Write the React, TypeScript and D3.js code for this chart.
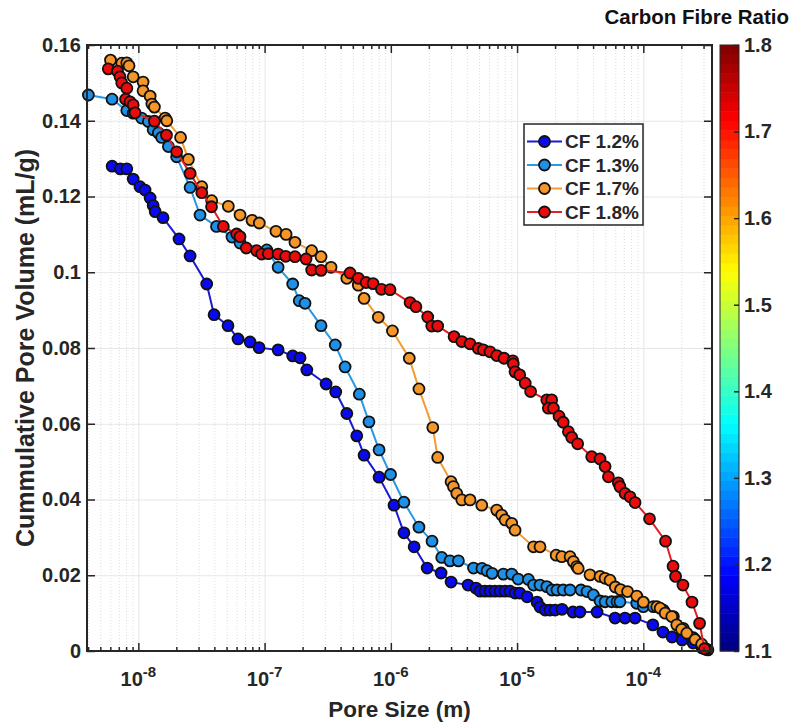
import React, { useEffect, useRef } from "react";
import * as d3 from "d3";

// pore size (m) / cumulative pore volume (mL/g)
const cf12Size = [6.2e-9, 7.2e-9, 8.1e-9, 9.1e-9, 1.03e-8, 1.13e-8, 1.24e-8, 1.31e-8, 1.36e-8, 1.57e-8, 2.1e-8, 2.57e-8, 3.48e-8, 3.98e-8, 5.13e-8, 6.16e-8, 7.67e-8, 9.04e-8, 1.28e-7, 1.67e-7, 1.91e-7, 2.16e-7, 3.07e-7, 3.66e-7, 4.48e-7, 5.37e-7, 6.14e-7, 8.07e-7, 1.06e-6, 1.27e-6, 1.53e-6, 1.94e-6, 2.5e-6, 3.0e-6, 4.09e-6, 4.73e-6, 5.09e-6, 5.57e-6, 6.1e-6, 6.68e-6, 7.33e-6, 8.02e-6, 8.79e-6, 9.64e-6, 1.05e-5, 1.2e-5, 1.44e-5, 1.52e-5, 1.67e-5, 1.82e-5, 2.0e-5, 2.27e-5, 2.77e-5, 3.15e-5, 4.3e-5, 5.97e-5, 7.16e-5, 8.6e-5, 1.19e-4, 1.43e-4, 1.69e-4, 2.03e-4, 2.48e-4, 2.92e-4, 3.15e-4];
const cf12Vol = [0.128, 0.1273, 0.1273, 0.1246, 0.1226, 0.1217, 0.1196, 0.1176, 0.116, 0.1144, 0.1088, 0.1043, 0.0969, 0.0888, 0.0859, 0.0824, 0.0816, 0.0801, 0.0795, 0.0779, 0.0774, 0.0742, 0.0705, 0.0684, 0.0627, 0.0568, 0.0517, 0.0459, 0.0385, 0.0312, 0.0275, 0.0219, 0.0206, 0.0182, 0.0174, 0.0166, 0.0158, 0.0158, 0.0158, 0.0158, 0.0158, 0.0158, 0.0158, 0.0153, 0.0153, 0.0143, 0.0129, 0.0116, 0.0108, 0.0108, 0.0108, 0.011, 0.0103, 0.0103, 0.0103, 0.0087, 0.0087, 0.0087, 0.0069, 0.005, 0.0037, 0.0029, 0.0021, 0.0008, 0.0005];

const cf13Size = [4.02e-9, 6.19e-9, 8.1e-9, 9.1e-9, 1.06e-8, 1.2e-8, 1.31e-8, 1.44e-8, 1.53e-8, 1.73e-8, 2.01e-8, 2.57e-8, 3.08e-8, 4.16e-8, 5.52e-8, 6.39e-8, 1.04e-7, 1.28e-7, 1.67e-7, 1.88e-7, 2.09e-7, 2.8e-7, 3.63e-7, 4.34e-7, 5.63e-7, 6.71e-7, 8.07e-7, 9.95e-7, 1.27e-6, 1.67e-6, 2.12e-6, 2.53e-6, 2.94e-6, 3.43e-6, 4.52e-6, 5.27e-6, 5.78e-6, 6.34e-6, 7.79e-6, 9.07e-6, 1.02e-5, 1.23e-5, 1.35e-5, 1.52e-5, 1.72e-5, 1.89e-5, 2.07e-5, 2.32e-5, 2.63e-5, 3.21e-5, 3.58e-5, 4.02e-5, 4.54e-5, 4.98e-5, 5.62e-5, 6.19e-5, 6.53e-5, 8.87e-5, 1.0e-4, 1.2e-4, 1.44e-4, 1.73e-4, 2.07e-4, 2.49e-4, 3.25e-4];
const cf13Vol = [0.1468, 0.1457, 0.1427, 0.142, 0.1407, 0.1398, 0.1376, 0.1368, 0.1356, 0.1332, 0.1305, 0.1224, 0.1151, 0.1121, 0.1093, 0.1077, 0.1059, 0.1013, 0.0969, 0.0925, 0.0918, 0.0859, 0.0808, 0.075, 0.0678, 0.0605, 0.0531, 0.0466, 0.0393, 0.0327, 0.029, 0.0247, 0.0238, 0.0238, 0.0219, 0.0218, 0.0212, 0.0205, 0.0203, 0.0203, 0.019, 0.0189, 0.0174, 0.0174, 0.017, 0.0161, 0.0161, 0.0161, 0.0161, 0.0161, 0.0157, 0.0148, 0.0132, 0.013, 0.013, 0.013, 0.013, 0.0126, 0.0117, 0.0117, 0.0108, 0.0091, 0.006, 0.0035, 0.0003];

const cf17Size = [6.02e-9, 7.39e-9, 8.1e-9, 8.44e-9, 9.1e-9, 1.09e-8, 1.09e-8, 1.24e-8, 1.28e-8, 1.34e-8, 1.63e-8, 1.68e-8, 2.16e-8, 2.49e-8, 3.18e-8, 3.81e-8, 5.16e-8, 6.39e-8, 7.95e-8, 9.08e-8, 1.23e-7, 1.48e-7, 1.74e-7, 2.36e-7, 2.8e-7, 3.36e-7, 4.48e-7, 5.53e-7, 6.14e-7, 7.96e-7, 1.03e-6, 1.4e-6, 1.67e-6, 2.15e-6, 2.35e-6, 3.0e-6, 3.13e-6, 3.33e-6, 3.65e-6, 4.24e-6, 5.25e-6, 6.9e-6, 7.55e-6, 8.04e-6, 9.07e-6, 9.64e-6, 1.35e-5, 1.52e-5, 2.04e-5, 2.26e-5, 2.63e-5, 2.79e-5, 2.97e-5, 3.05e-5, 3.78e-5, 4.54e-5, 4.98e-5, 5.45e-5, 6.0e-5, 6.6e-5, 7.5e-5, 8.87e-5, 1.0e-4, 1.28e-4, 1.36e-4, 1.49e-4, 1.68e-4, 1.84e-4, 2.01e-4, 2.21e-4, 2.57e-4, 2.9e-4, 3.14e-4];
const cf17Vol = [0.156, 0.1552, 0.1553, 0.1545, 0.1516, 0.1502, 0.1479, 0.1465, 0.1444, 0.1436, 0.1407, 0.14, 0.1356, 0.1298, 0.1226, 0.1189, 0.1174, 0.1151, 0.1137, 0.113, 0.1108, 0.11, 0.1079, 0.1057, 0.1041, 0.1013, 0.0984, 0.0966, 0.0931, 0.0881, 0.0845, 0.0773, 0.0692, 0.059, 0.0511, 0.0447, 0.0434, 0.0416, 0.0399, 0.0399, 0.0385, 0.0372, 0.0359, 0.0346, 0.0337, 0.0319, 0.0275, 0.0275, 0.0253, 0.0249, 0.0249, 0.0236, 0.0223, 0.0218, 0.0201, 0.0197, 0.0192, 0.0187, 0.0169, 0.0162, 0.0157, 0.0145, 0.0129, 0.0117, 0.0113, 0.01, 0.0091, 0.0069, 0.0057, 0.0047, 0.003, 0.0018, 0.0005];

const cf18Size = [5.78e-9, 6.84e-9, 7.16e-9, 7.39e-9, 8.1e-9, 7.92e-9, 8.59e-9, 9.1e-9, 9.42e-9, 1.34e-8, 1.67e-8, 2.01e-8, 2.57e-8, 3.18e-8, 3.8e-8, 4.71e-8, 6.01e-8, 6.39e-8, 7.16e-8, 8.66e-8, 9.49e-8, 1.07e-7, 1.28e-7, 1.47e-7, 1.74e-7, 2.13e-7, 2.36e-7, 2.8e-7, 4.75e-7, 5.53e-7, 6.37e-7, 7.23e-7, 8.43e-7, 9.86e-7, 1.42e-6, 1.58e-6, 1.96e-6, 2.11e-6, 2.35e-6, 3.17e-6, 3.65e-6, 4.24e-6, 4.93e-6, 5.4e-6, 6.1e-6, 6.9e-6, 7.89e-6, 9.25e-6, 9.33e-6, 9.64e-6, 1.05e-5, 1.16e-5, 1.28e-5, 1.72e-5, 1.88e-5, 1.77e-5, 1.94e-5, 2.15e-5, 2.32e-5, 2.55e-5, 2.71e-5, 3.02e-5, 3.9e-5, 4.54e-5, 4.98e-5, 5.29e-5, 6.34e-5, 6.53e-5, 7.16e-5, 7.85e-5, 8.6e-5, 1.12e-4, 1.5e-4, 1.72e-4, 1.8e-4, 2.06e-4, 2.43e-4, 2.79e-4, 3.05e-4];
const cf18Vol = [0.1537, 0.1531, 0.1516, 0.15, 0.1486, 0.1457, 0.145, 0.1442, 0.1421, 0.1399, 0.1362, 0.1318, 0.1261, 0.121, 0.1173, 0.1121, 0.1101, 0.1094, 0.1064, 0.1057, 0.1048, 0.1049, 0.1048, 0.1042, 0.1041, 0.1035, 0.1006, 0.1005, 0.0998, 0.0984, 0.0973, 0.097, 0.0955, 0.0954, 0.092, 0.0909, 0.0882, 0.0858, 0.0858, 0.083, 0.0817, 0.0811, 0.0799, 0.0795, 0.079, 0.078, 0.0773, 0.0766, 0.0758, 0.0737, 0.0729, 0.0707, 0.0685, 0.0663, 0.0663, 0.0641, 0.0641, 0.062, 0.0604, 0.0579, 0.0564, 0.0547, 0.0513, 0.0507, 0.0487, 0.046, 0.0444, 0.0434, 0.0416, 0.0407, 0.0392, 0.0349, 0.029, 0.0224, 0.0197, 0.0174, 0.0129, 0.0073, 0.0006];

const seriesNames = ["CF 1.2%", "CF 1.3%", "CF 1.7%", "CF 1.8%"];
const seriesFill = ["#0a0af0", "#1f90e8", "#f5962a", "#e80c0c"];
const seriesLine = ["#1a1ad2", "#2b98e2", "#f39c34", "#e41e26"];

const xTicks = [1e-8, 1e-7, 1e-6, 1e-5, 1e-4];
const xTickExp = ["-8", "-7", "-6", "-5", "-4"];
const yTicks = [0, 0.02, 0.04, 0.06, 0.08, 0.1, 0.12, 0.14, 0.16];
const cbTicks = [1.1, 1.2, 1.3, 1.4, 1.5, 1.6, 1.7, 1.8];

// MATLAB-style jet colormap
const jet = (t) => {
  const c = (v) => Math.max(0, Math.min(1, v)) * 255;
  return d3.rgb(c(1.5 - Math.abs(4 * t - 3)), c(1.5 - Math.abs(4 * t - 2)), c(1.5 - Math.abs(4 * t - 1))).toString();
};

const App = () => {
  const svgRef = useRef(null);

  useEffect(() => {
    const svg = d3.select(svgRef.current);
    svg.selectAll("*").remove();

    const left = 87, right = 712, top = 45, bottom = 651;
    const font = "'Liberation Sans', Arial, Helvetica, sans-serif";
    const ink = "#262626";

    const x = d3.scaleLog().domain([3.92e-9, 3.5e-4]).range([left, right]);
    const y = d3.scaleLinear().domain([0, 0.16]).range([bottom, top]);

    const minorX = x.ticks().filter((v) => {
      const l = Math.log10(v);
      return Math.abs(l - Math.round(l)) > 1e-6;
    });

    svg.append("rect").attr("x", left).attr("y", top).attr("width", right - left).attr("height", bottom - top).attr("fill", "#fff");

    // grid
    svg.append("g")
      .attr("transform", `translate(0,${bottom})`)
      .call(d3.axisBottom(x).tickValues(minorX).tickSize(-(bottom - top)).tickFormat(() => ""))
      .call((g) => g.select(".domain").remove())
      .call((g) => g.selectAll("line").attr("stroke", "#dcdcdc").attr("stroke-dasharray", "1,2"));
    svg.append("g")
      .attr("transform", `translate(0,${bottom})`)
      .call(d3.axisBottom(x).tickValues(xTicks).tickSize(-(bottom - top)).tickFormat(() => ""))
      .call((g) => g.select(".domain").remove())
      .call((g) => g.selectAll("line").attr("stroke", "#e6e6e6"));
    svg.append("g")
      .attr("transform", `translate(${left},0)`)
      .call(d3.axisLeft(y).tickValues(yTicks).tickSize(-(right - left)).tickFormat(() => ""))
      .call((g) => g.select(".domain").remove())
      .call((g) => g.selectAll("line").attr("stroke", "#e6e6e6"));

    // series
    const series = [
      [cf12Size, cf12Vol],
      [cf13Size, cf13Vol],
      [cf17Size, cf17Vol],
      [cf18Size, cf18Vol],
    ];
    const line = d3.line().x((d) => x(d[0])).y((d) => y(d[1]));
    series.forEach(([sx, sy], i) => {
      const pts = sx.map((v, j) => [v, sy[j]]);
      const g = svg.append("g");
      g.append("path").datum(pts).attr("d", line).attr("fill", "none")
        .attr("stroke", seriesLine[i]).attr("stroke-width", 2);
      g.selectAll("circle").data(pts).enter().append("circle")
        .attr("cx", (d) => x(d[0])).attr("cy", (d) => y(d[1])).attr("r", 5.5)
        .attr("fill", seriesFill[i]).attr("stroke", "#111").attr("stroke-width", 1.8);
    });

    // axes (ticks inside the box)
    const styleAxis = (g) => {
      g.select(".domain").remove();
      g.selectAll("line").attr("stroke", ink).attr("stroke-width", 1.5);
      g.selectAll("text").attr("font-family", font).attr("font-weight", "bold")
        .attr("font-size", 20).attr("fill", ink);
    };
    svg.append("g").attr("transform", `translate(0,${bottom})`)
      .call(d3.axisBottom(x).tickValues(xTicks).tickSizeInner(-8).tickSizeOuter(0).tickFormat(() => ""))
      .call(styleAxis);
    svg.append("g").attr("transform", `translate(0,${bottom})`)
      .call(d3.axisBottom(x).tickValues(minorX).tickSizeInner(-4).tickSizeOuter(0).tickFormat(() => ""))
      .call(styleAxis);
    svg.append("g").attr("transform", `translate(0,${top})`)
      .call(d3.axisTop(x).tickValues(xTicks).tickSizeInner(-8).tickSizeOuter(0).tickFormat(() => ""))
      .call(styleAxis);
    svg.append("g").attr("transform", `translate(0,${top})`)
      .call(d3.axisTop(x).tickValues(minorX).tickSizeInner(-4).tickSizeOuter(0).tickFormat(() => ""))
      .call(styleAxis);
    svg.append("g").attr("transform", `translate(${left},0)`)
      .call(d3.axisLeft(y).tickValues(yTicks).tickSizeInner(-8).tickSizeOuter(0).tickPadding(6).tickFormat((d) => String(d)))
      .call(styleAxis);
    svg.append("g").attr("transform", `translate(${right},0)`)
      .call(d3.axisRight(y).tickValues(yTicks).tickSizeInner(-8).tickSizeOuter(0).tickFormat(() => ""))
      .call(styleAxis);

    // x tick labels 10^n
    const xl = svg.append("g").attr("font-family", font).attr("font-weight", "bold").attr("fill", ink);
    xTicks.forEach((v, i) => {
      const t = xl.append("text").attr("x", x(v)).attr("y", 686).attr("text-anchor", "middle");
      t.append("tspan").attr("font-size", 20).text("10");
      t.append("tspan").attr("font-size", 15).attr("dy", -9).text(xTickExp[i]);
    });

    svg.append("rect").attr("x", left).attr("y", top).attr("width", right - left).attr("height", bottom - top)
      .attr("fill", "none").attr("stroke", ink).attr("stroke-width", 2);

    // axis labels
    svg.append("text").attr("x", (left + right) / 2).attr("y", 717).attr("text-anchor", "middle")
      .attr("font-family", font).attr("font-weight", "bold").attr("font-size", 22.5).attr("fill", ink)
      .text("Pore Size (m)");
    svg.append("text").attr("transform", `translate(34,${(top + bottom) / 2}) rotate(-90)`).attr("text-anchor", "middle")
      .attr("font-family", font).attr("font-weight", "bold").attr("font-size", 25).attr("fill", ink)
      .text("Cummulative Pore Volume (mL/g)");

    // legend
    const lg = svg.append("g");
    lg.append("rect").attr("x", 524).attr("y", 124).attr("width", 119).attr("height", 101)
      .attr("fill", "#fff").attr("stroke", ink).attr("stroke-width", 1.5);
    seriesNames.forEach((name, i) => {
      const cy = 141.5 + i * 23.5;
      lg.append("line").attr("x1", 527).attr("x2", 562).attr("y1", cy).attr("y2", cy)
        .attr("stroke", seriesLine[i]).attr("stroke-width", 2);
      lg.append("circle").attr("cx", 544.5).attr("cy", cy).attr("r", 5.5)
        .attr("fill", seriesFill[i]).attr("stroke", "#111").attr("stroke-width", 1.8);
      lg.append("text").attr("x", 565).attr("y", cy).attr("dy", "0.36em")
        .attr("font-family", font).attr("font-weight", "bold").attr("font-size", 19).attr("fill", ink)
        .text(name);
    });

    // colorbar
    const cbLeft = 720, cbRight = 739;
    const cb = d3.scaleLinear().domain([1.1, 1.8]).range([bottom, top]);
    const nBands = 64;
    const step = (cb.domain()[1] - cb.domain()[0]) / nBands;
    svg.append("g").selectAll("rect").data(d3.range(nBands)).enter().append("rect")
      .attr("x", cbLeft).attr("width", cbRight - cbLeft)
      .attr("y", (i) => cb(1.1 + (i + 1) * step))
      .attr("height", (i) => cb(1.1 + i * step) - cb(1.1 + (i + 1) * step) + 0.5)
      .attr("fill", (i) => jet((i + 0.5) / nBands));
    svg.append("rect").attr("x", cbLeft).attr("y", top).attr("width", cbRight - cbLeft).attr("height", bottom - top)
      .attr("fill", "none").attr("stroke", ink).attr("stroke-width", 1);
    svg.append("g").attr("transform", `translate(${cbRight},0)`)
      .call(d3.axisRight(cb).tickValues(cbTicks).tickSizeInner(-5).tickSizeOuter(0).tickPadding(5).tickFormat(d3.format(".1f")))
      .call(styleAxis);
    svg.append("text").attr("x", 789).attr("y", 24).attr("text-anchor", "end")
      .attr("font-family", font).attr("font-weight", "bold").attr("font-size", 20.5).attr("fill", "#111")
      .text("Carbon Fibre Ratio");
  }, []);

  return (
    <svg ref={svgRef} width={792} height={724}
      style={{ position: "absolute", left: 0, top: 0, background: "#fff" }} />
  );
};

export default App;
